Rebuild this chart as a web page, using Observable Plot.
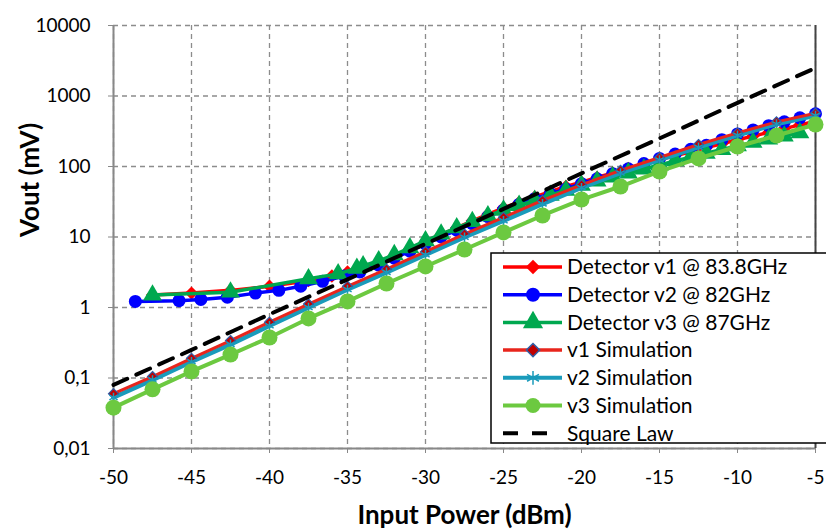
<!DOCTYPE html>
<html><head><meta charset="utf-8">
<script src="https://cdn.jsdelivr.net/npm/d3@7"></script>
<script src="https://cdn.jsdelivr.net/npm/@observablehq/plot@0.6"></script>
<style>body{margin:0;background:#fff;font-family:Lato,sans-serif}</style>
</head><body><div id="chart"></div>
<script>
// ---- data ----
const xTicks = [-50,-45,-40,-35,-30,-25,-20,-15,-10,-5];
const yTicks = [0.01,0.1,1,10,100,1000,10000];

const simX  = [-50,-47.5,-45,-42.5,-40,-37.5,-35,-32.5,-30,-27.5,-25,-22.5,-20,-17.5,-15,-12.5,-10,-7.5,-5];
const v1Sim = [0.06,0.105,0.19,0.34,0.62,1.12,2.0,3.5,6.2,11,19,33,55,88,134,205,300,430,570];
const v2Sim = [0.053,0.094,0.17,0.3,0.55,1.0,1.8,3.15,5.6,9.9,17,29.5,50,81,124,188,277,400,530];
const v3Sim = [0.038,0.069,0.124,0.215,0.375,0.70,1.22,2.19,3.82,6.65,11.6,20.2,34,52,85,130,192,275,394];

const sqX = [-50,-45,-40,-35,-30,-25,-20,-15,-10,-5];
const sqY = [0.08,0.25,0.8,2.5,8,25,80,250,800,2500];

const det1X = [-47.5,-45,-42.5,-40,-37.5,-36,-35,-34,-33,-32,-31,-30,-29,-28,-27,-26,-25,-24,-23,-22,-21,-20,-19,-18,-17,-16,-15,-14,-13,-12,-11,-10,-9,-8,-7,-6,-5];
const det1Y = [1.5,1.6,1.75,2.0,2.4,2.8,3.2,3.7,4.4,5.4,6.8,8.6,10.8,13.5,17,21,26,31,37,44,52,60,70,81,94,108,125,142,162,185,210,240,270,305,345,390,440];

const det2X = [-48.6,-45.8,-44.4,-42.7,-40.9,-39.4,-38,-36.6,-35.2,-34.2,-33,-32,-31,-30,-29,-28,-27,-26,-25,-24,-23,-22,-21,-20,-19,-18,-17,-16,-15,-14,-13,-12,-11,-10,-9,-8,-7,-6,-5];
const det2Y = [1.22,1.25,1.3,1.4,1.6,1.75,2.0,2.35,2.8,3.2,4.0,5.0,6.3,8.0,10,12.5,15.5,19.5,24,29,35,41,48,57,67,79,93,110,130,150,175,200,240,290,330,380,430,490,560];

const det3X = [-47.5,-42.5,-37.5,-35.6,-34.4,-34,-33,-32,-31,-30,-29,-28,-27,-26,-25,-24,-23,-22,-21,-20,-19,-18,-17,-16,-15,-14,-13,-12,-11,-10,-9,-8,-7,-6];
const det3Y = [1.5,1.65,2.55,3.0,3.6,3.9,4.6,5.6,7.0,8.8,11,13.5,16.5,20,24,28,33,39,46,54,62,71,81,92,105,120,136,154,174,196,220,245,270,300];

const legendLabels = ["Detector v1 @ 83.8GHz","Detector v2 @ 82GHz","Detector v3 @ 87GHz","v1 Simulation","v2 Simulation","v3 Simulation","Square Law"];

// ---- build ----
const rows = (xs, ys) => xs.map((x, i) => ({x, y: ys[i]}));
const fmt = d => String(d).replace(".", ",");

const C = {
  red: "#ff0000", blue: "#0000ff", green: "#00a84f",
  simRed: "#e8251c", teal: "#1a9bbb", lime: "#6cc940", diaFill: "#c00000", diaEdge: "#2e5fa8"
};

const gridStyle = {stroke: "#8c8c8c", strokeOpacity: 1, strokeDasharray: "5,4", strokeWidth: 1.3};

const plot = Plot.plot({
  width: 826, height: 531,
  marginLeft: 113, marginRight: 11, marginTop: 25, marginBottom: 83,
  style: {fontFamily: "Lato, sans-serif", background: "#fff", overflow: "visible"},
  x: {domain: [-50, -5]},
  y: {type: "log", domain: [0.01, 10000]},
  marks: [
    Plot.gridX(xTicks, gridStyle),
    Plot.gridY(yTicks, gridStyle),
    Plot.ruleX([-50], {stroke: "#888", strokeWidth: 2}),
    Plot.ruleY([0.01], {stroke: "#888", strokeWidth: 2}),
    Plot.ruleX([-5], {stroke: "#444", strokeWidth: 2}),
    Plot.axisX(xTicks, {tickSize: 5, tickPadding: 17, fontSize: 19, stroke: "#888", fill: "#000", label: null, tickFormat: d => String(d)}),
    Plot.axisY(yTicks, {tickSize: 5, tickPadding: 18, fontSize: 19, stroke: "#888", fill: "#000", label: null, tickFormat: fmt}),

    // measured detectors
    Plot.line(rows(det1X, det1Y), {x: "x", y: "y", stroke: C.red, strokeWidth: 3.5}),
    Plot.dot(rows(det1X, det1Y), {x: "x", y: "y", symbol: "diamond2", r: 6, fill: C.red}),
    Plot.line(rows(det2X, det2Y), {x: "x", y: "y", stroke: C.blue, strokeWidth: 3.5}),
    Plot.dot(rows(det2X, det2Y), {x: "x", y: "y", symbol: "circle", r: 6.5, fill: C.blue}),
    Plot.line(rows(det3X, det3Y), {x: "x", y: "y", stroke: C.green, strokeWidth: 3.5}),
    Plot.dot(rows(det3X, det3Y), {x: "x", y: "y", symbol: "triangle", r: 7, fill: C.green}),

    // simulations
    Plot.line(rows(simX, v2Sim), {x: "x", y: "y", stroke: C.teal, strokeWidth: 4.5}),
    Plot.line(rows(simX, v1Sim), {x: "x", y: "y", stroke: C.simRed, strokeWidth: 3}),
    Plot.dot(rows(simX, v1Sim), {x: "x", y: "y", symbol: "diamond2", r: 4.5, fill: C.diaFill, stroke: C.diaEdge, strokeWidth: 1.2}),
    Plot.dot(rows(simX, v2Sim), {x: "x", y: "y", symbol: "asterisk", r: 4.5, stroke: C.teal, strokeWidth: 1.5}),
    Plot.line(rows(simX, v3Sim), {x: "x", y: "y", stroke: C.lime, strokeWidth: 4}),
    Plot.dot(rows(simX, v3Sim), {x: "x", y: "y", symbol: "circle", r: 8, fill: C.lime}),

    // square law
    Plot.line(rows(sqX, sqY), {x: "x", y: "y", stroke: "#000", strokeWidth: 4, strokeDasharray: "15,10"}),

    // titles
    Plot.text(["Input Power (dBm)"], {frameAnchor: "bottom", dy: 75, fontSize: 26, fontWeight: "bold", fill: "#000"}),
    Plot.text(["Vout (mV)"], {frameAnchor: "left", dx: -83, rotate: -90, fontSize: 26, fontWeight: "bold", fill: "#000"})
  ]
});

document.getElementById("chart").appendChild(plot);

// ---- legend ----
const svg = d3.select(plot);
const lg = svg.append("g").attr("font-family", "Lato, sans-serif").attr("text-anchor", "start");
const lx = 491, ly = 253, rowH = 27.7;
lg.append("rect").attr("x", lx).attr("y", ly).attr("width", 340).attr("height", 190)
  .attr("fill", "#fff").attr("stroke", "#000").attr("stroke-width", 1.5);
const spec = [
  {stroke: C.red, w: 3.5, sym: d3.symbolDiamond2, r: 6.5, fill: C.red},
  {stroke: C.blue, w: 3.5, sym: d3.symbolCircle, r: 7, fill: C.blue},
  {stroke: C.green, w: 3.5, sym: d3.symbolTriangle, r: 7.5, fill: C.green},
  {stroke: C.simRed, w: 3.5, sym: d3.symbolDiamond2, r: 6, fill: C.diaFill, edge: C.diaEdge},
  {stroke: C.teal, w: 4, sym: d3.symbolAsterisk, r: 6.5, fill: "none", edge: C.teal},
  {stroke: C.lime, w: 4, sym: d3.symbolCircle, r: 7.5, fill: C.lime},
  {stroke: "#000", w: 4, dash: "15,14", x2: 547}
];
legendLabels.forEach((label, i) => {
  const cy = ly + 14 + i * rowH, s = spec[i];
  lg.append("line").attr("x1", 503).attr("x2", s.x2 || 562).attr("y1", cy).attr("y2", cy)
    .attr("stroke", s.stroke).attr("stroke-width", s.w).attr("stroke-dasharray", s.dash || null);
  if (s.sym) {
    lg.append("path").attr("d", d3.symbol(s.sym, Math.PI * s.r * s.r)())
      .attr("transform", `translate(533,${cy})`).attr("fill", s.fill)
      .attr("stroke", s.edge || "none").attr("stroke-width", s.edge ? 1.5 : 0);
  }
  lg.append("text").attr("x", 567).attr("y", cy).attr("dy", "0.35em").attr("text-anchor", "start")
    .attr("font-size", 21).attr("fill", "#000").text(label);
});
</script>
</body></html>
